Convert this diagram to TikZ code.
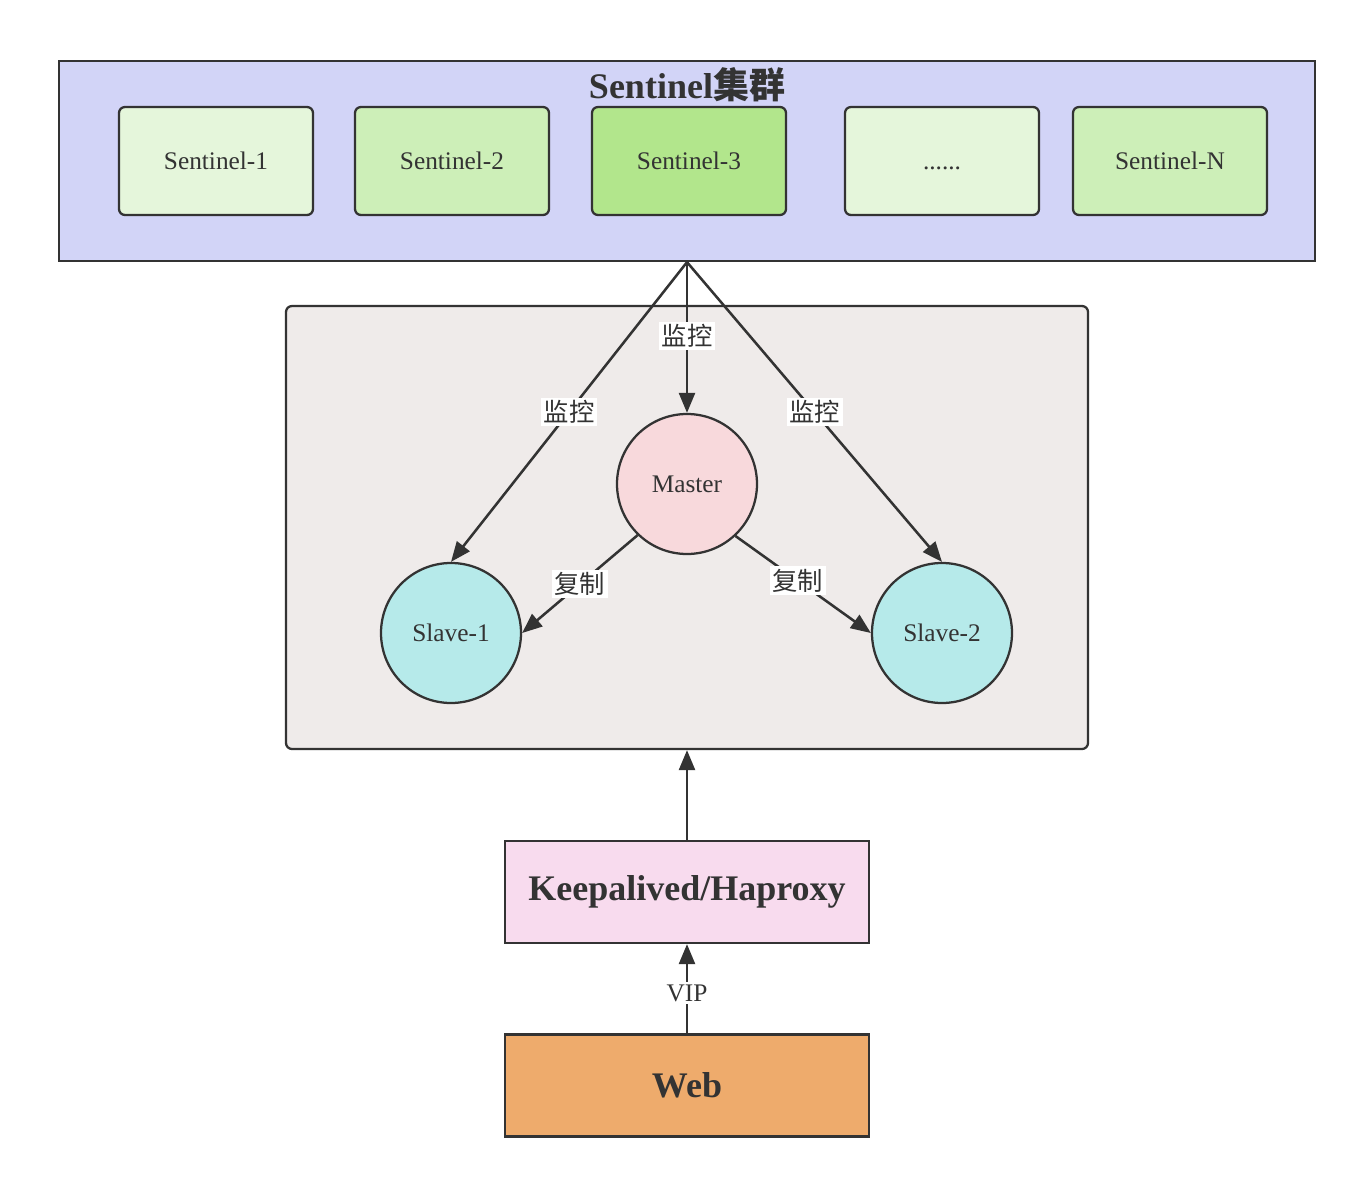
\documentclass[tikz,border=0pt]{standalone}
\usepackage{fontspec}
\setmainfont{Liberation Serif}
\newfontfamily\cjk{Noto Sans CJK SC}
\usetikzlibrary{arrows.meta}
\definecolor{ink}{HTML}{333333}
\definecolor{clusterfill}{HTML}{D2D4F7}
\definecolor{sentA}{HTML}{E5F6DB}
\definecolor{sentB}{HTML}{CDEFB8}
\definecolor{sentC}{HTML}{B2E68C}
\definecolor{innerfill}{HTML}{EFEBEA}
\definecolor{masterfill}{HTML}{F8D9DC}
\definecolor{slavefill}{HTML}{B6EAEA}
\definecolor{kafill}{HTML}{F8DBEE}
\definecolor{webfill}{HTML}{EEAB6C}
\tikzset{
  smalltext/.style={font=\fontsize{19}{22}\selectfont, text=ink},
  bigtext/.style={font=\fontsize{27}{32}\selectfont\bfseries, text=ink},
  sentbox/.style={draw=ink, line width=1.7pt, rounded corners=4.5pt, minimum width=145.5pt, minimum height=81pt, text height=14pt, text depth=2pt, smalltext},
  circ/.style={circle, draw=ink, line width=1.7pt, minimum size=105pt, inner sep=0pt, smalltext},
  bigbox/.style={draw=ink, line width=1.7pt, minimum width=273pt, minimum height=76.5pt, bigtext},
  conn/.style={draw=ink, line width=1.9pt, -{Triangle[length=15pt,width=12pt]}},
  lbl/.style={fill=white, inner sep=2pt, smalltext, font=\fontsize{19}{22}\selectfont\cjk}
}
\begin{document}
\begin{tikzpicture}[x=0.75pt,y=-0.75pt]
\useasboundingbox (0,0) rectangle (1368,1182);
% cluster
\node[draw=ink, fill=clusterfill, line width=1.7pt, minimum width=942pt, minimum height=150pt] (cluster) at (687,161) {};
\node[bigtext] (title) at (687,85) {Sentinel{\cjk 集群}};
\node[sentbox, fill=sentA] (s1) at (216,161) {Sentinel-1};
\node[sentbox, fill=sentB] (s2) at (452,161) {Sentinel-2};
\node[sentbox, fill=sentC] (s3) at (689,161) {Sentinel-3};
\node[sentbox, fill=sentA] (sd) at (942,161) {......};
\node[sentbox, fill=sentB] (sn) at (1170,161) {Sentinel-N};
% inner group
\node[draw=ink, fill=innerfill, line width=1.7pt, rounded corners=4.5pt, minimum width=601.5pt, minimum height=332.25pt] (group) at (687,527.5) {};
\node[circ, fill=masterfill] (master) at (687,484) {Master};
\node[circ, fill=slavefill] (slave1) at (451,633) {Slave-1};
\node[circ, fill=slavefill] (slave2) at (942,633) {Slave-2};
% monitor arrows
\coordinate (top) at (cluster.south);
\draw[conn] (top) -- node[lbl, pos=0.49] {监控} (master.north);
\draw[conn] (top) -- node[lbl, pos=0.5] {监控} (slave1.north);
\draw[conn] (top) -- node[lbl, pos=0.5] {监控} (slave2.north);
% replication
\draw[conn] (master.226) -- node[lbl, pos=0.5] {复制} (slave1.east);
\draw[conn] (master.-47) -- node[lbl, pos=0.46] {复制} (slave2.west);
% bottom
\node[bigbox, fill=kafill] (ka) at (687,892) {Keepalived/Haproxy};
\node[bigbox, fill=webfill] (web) at (687,1085.5) {Web};
\draw[conn] (ka.north) -- (group.south);
\draw[conn] (web.north) -- node[fill=white, inner sep=2pt, smalltext, pos=0.45] {VIP} (ka.south);
\end{tikzpicture}
\end{document}
